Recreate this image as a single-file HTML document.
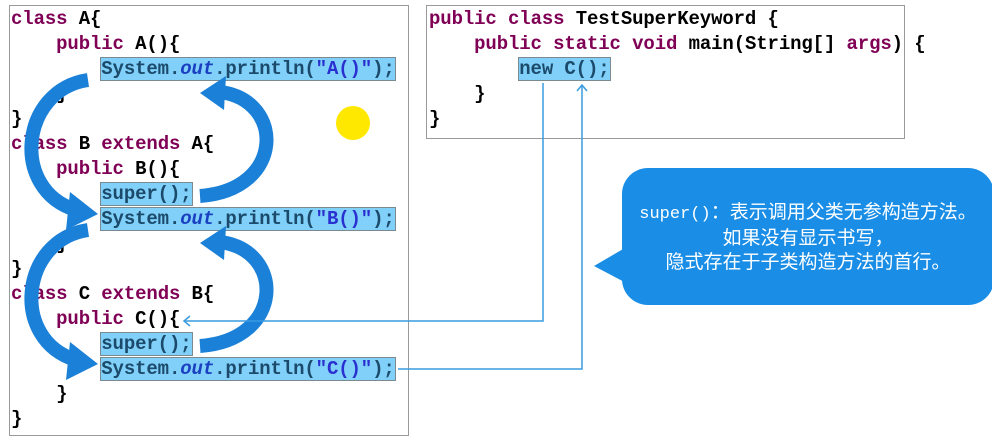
<!DOCTYPE html>
<html><head><meta charset="utf-8"><style>
body{margin:0;width:992px;height:439px;background:#fff;position:relative;overflow:hidden;font-family:"Liberation Mono",monospace;}
.panel{position:absolute;border:1.5px solid #9a9a9a;background:#fff;}
.code{position:absolute;font-weight:bold;font-size:19px;line-height:25px;white-space:pre;color:#000;letter-spacing:-0.12px}
.k{color:#7f0055}
.o{color:#0000c0;font-style:italic}
.s{color:#2a00ff}
.h{background:#80d0fa;outline:1.5px solid #7a8a90;color:#1b4a6a}
.h .o{color:#1a3fc0}
.h .s{color:#2a30d0}
.bub{position:absolute;left:622px;top:168px;width:372px;height:137px;background:#1a8ee6;border-radius:26px;color:#fff;font-family:"Liberation Sans","Noto Sans CJK SC",sans-serif;font-size:19px;line-height:24px;text-align:center;box-sizing:border-box;padding-top:33px;}
.bub .m{font-family:"Liberation Mono",monospace;font-size:17px}
</style></head><body>
<div class="panel" style="left:9px;top:5px;width:398px;height:429px"></div>
<div class="panel" style="left:426px;top:5px;width:477px;height:132px"></div>
<div class="code" style="left:11px;top:7px"><span class="k">class</span> A{
    <span class="k">public</span> A(){
        <span class="h">System.<span class="o">out</span>.println(<span class="s">"A()"</span>);</span>
    }
}
<span class="k">class</span> B <span class="k">extends</span> A{
    <span class="k">public</span> B(){
        <span class="h">super();</span>
        <span class="h">System.<span class="o">out</span>.println(<span class="s">"B()"</span>);</span>
    }
}
<span class="k">class</span> C <span class="k">extends</span> B{
    <span class="k">public</span> C(){
        <span class="h">super();</span>
        <span class="h">System.<span class="o">out</span>.println(<span class="s">"C()"</span>);</span>
    }
}</div>
<div class="code" style="left:429px;top:7px"><span class="k">public</span> <span class="k">class</span> TestSuperKeyword {
    <span class="k">public</span> <span class="k">static</span> <span class="k">void</span> main(String[] <span class="k">args</span>) {
        <span class="h">new C();</span>
    }
}</div>
<svg width="992" height="439" style="position:absolute;left:0;top:0">
<circle cx="353" cy="123" r="17" fill="#ffe800"/>
<g fill="none" stroke="#1a80d8" stroke-width="14">
<path d="M88 80 C20 90 10 190 76 210"/>
<path d="M200 196 C285 190 285 100 220 92"/>
<path d="M88 230 C20 240 10 340 76 360"/>
<path d="M200 346 C285 340 285 250 220 242"/>
</g>
<g fill="#1a80d8">
<polygon points="70,192 98,214 66,230"/>
<polygon points="200,93 226,76 224,110"/>
<polygon points="70,342 98,364 66,380"/>
<polygon points="200,243 226,226 224,260"/>
</g>
<g stroke="#3a9be0" stroke-width="1.5" fill="none">
<path d="M543 83 V321 H184"/>
<path d="M190 316 L184 321 L190 326"/>
<path d="M398 369 H582 V85"/>
<path d="M577 91 L582 85 L587 91"/>
</g>
<polygon points="594,266 630,245 630,285" fill="#1a8ee6"/>
</svg>
<div class="bub"><span class="m">super()</span>：表示调用父类无参构造方法。<br>如果没有显示书写，<br>隐式存在于子类构造方法的首行。</div>
</body></html>
